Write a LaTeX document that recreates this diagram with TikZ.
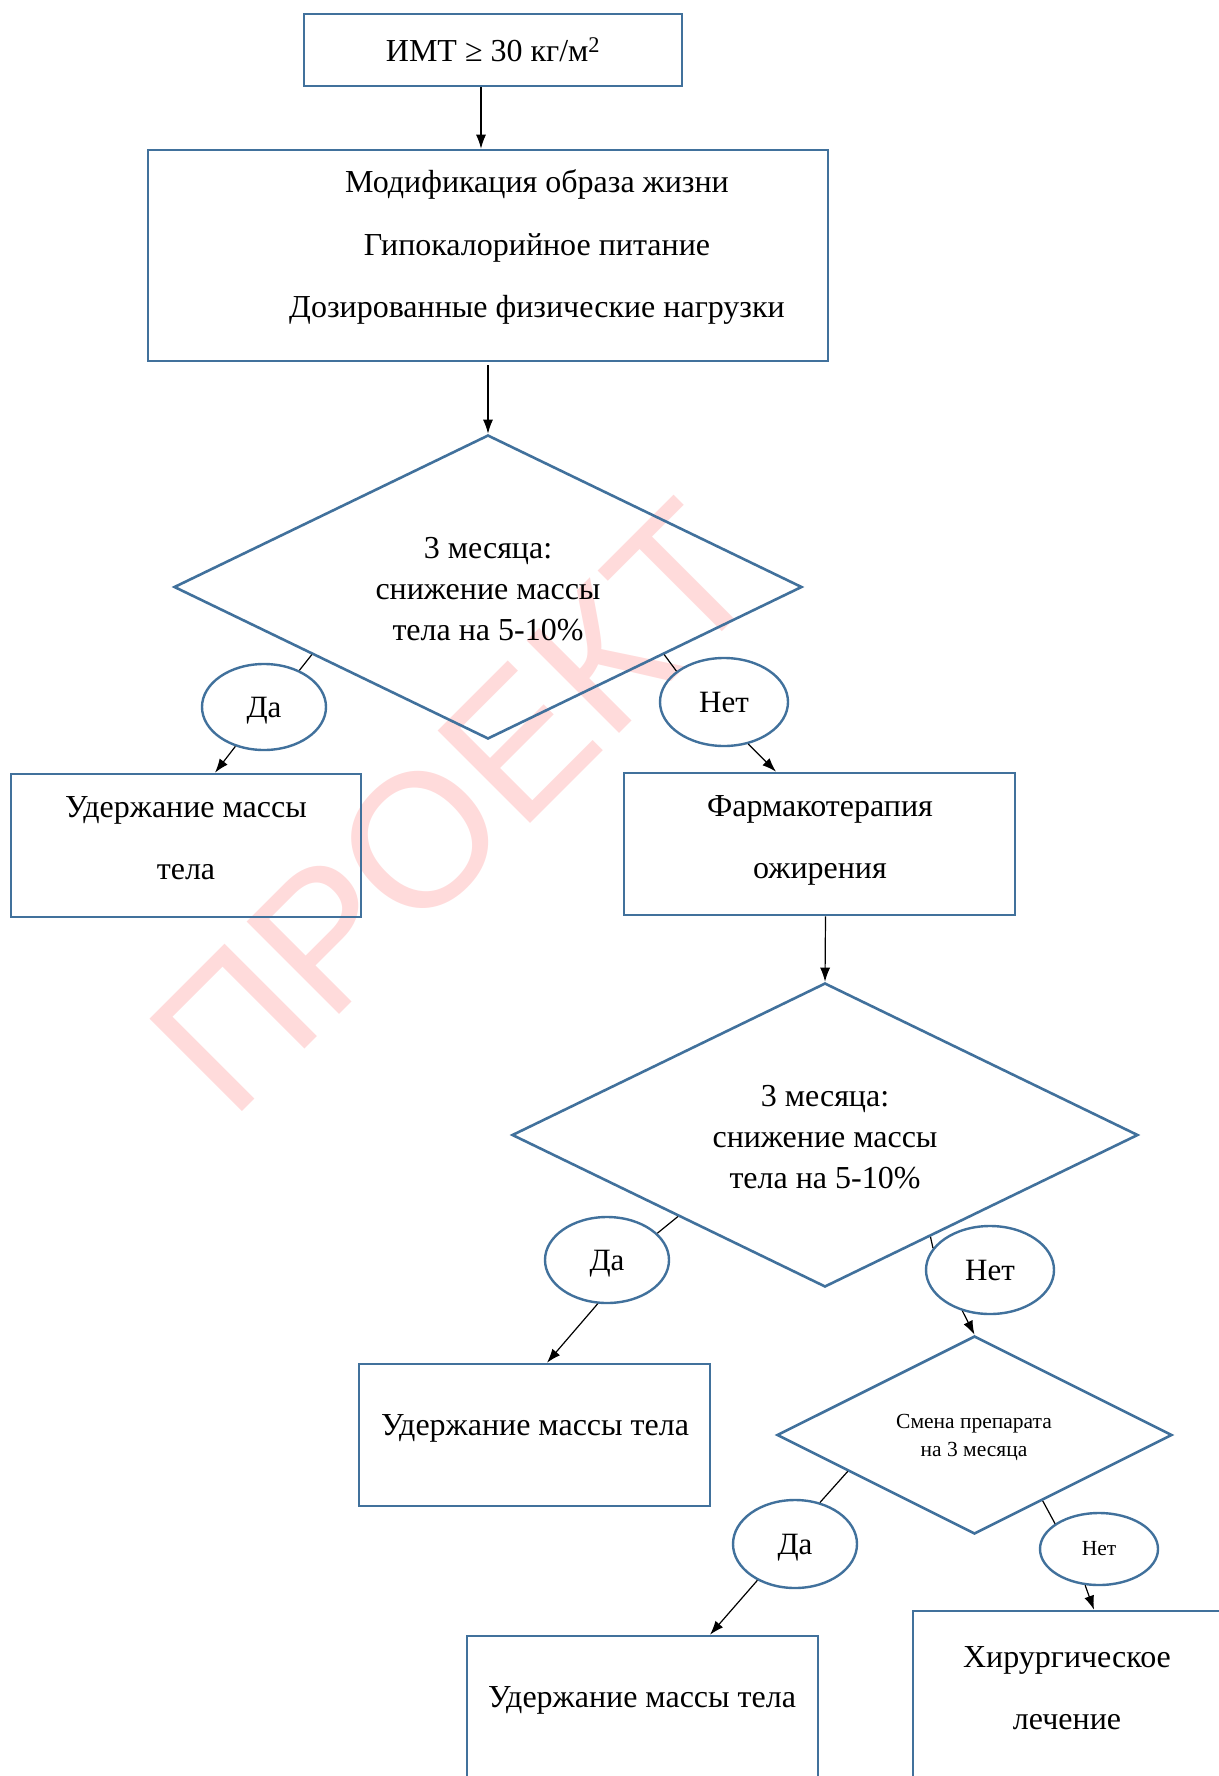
\documentclass[tikz,border=0pt]{standalone}
\usepackage{fontspec}
\setmainfont{Liberation Serif}
\newfontfamily\wmfont{Liberation Sans}
\usetikzlibrary{shapes.geometric,arrows.meta}
\definecolor{shapeblue}{RGB}{65,113,156}
\begin{document}
\begin{tikzpicture}[x=1pt,y=-1pt,
  box/.style={draw=shapeblue, line width=2.6pt, rectangle, inner sep=0pt},
  dia/.style={draw=shapeblue, line width=2.6pt, diamond, inner sep=0pt},
  ell/.style={draw=shapeblue, line width=2.4pt, ellipse, inner sep=0pt, font=\fontsize{31}{36}\selectfont},
  yes/.style={ell, text depth=0pt},
  txt/.style={inner sep=0pt, align=center, font=\fontsize{32}{62}\selectfont},
  dtxt/.style={inner sep=0pt, align=center, font=\fontsize{32}{41}\selectfont},
  stxt/.style={inner sep=0pt, align=center, font=\fontsize{21.5}{28}\selectfont},
  con/.style={line width=1.2pt, black},
  arr/.style={con, -{Latex[length=14pt,width=10pt]}}
]
\useasboundingbox (0,0) rectangle (1218,1776);
\fill[white] (0,0) rectangle (1218,1776);

% watermark
\node[rotate=45, text=red, text opacity=0.14, inner sep=0pt, font=\wmfont\fontsize{190}{190}\selectfont] (wm) at (454,807) {ПРОЕКТ};

% shapes
\node[box, minimum width=378pt, minimum height=72pt, font=\fontsize{32}{36}\selectfont] (b1) at (493,50) {ИМТ ≥ 30 кг/м\textsuperscript{2}};

\node[box, minimum width=680pt, minimum height=211pt] (b2) at (488,255.5) {};
\node[txt] (b2t) at (537,247) {Модификация образа жизни\\Гипокалорийное питание\\Дозированные физические нагрузки};

\node[dia, minimum width=628pt, minimum height=304pt] (d1) at (488,587) {};
\node[dtxt] (d1t) at (488,589) {3 месяца:\\снижение массы\\тела на 5-10\%};

\node[yes, minimum width=124pt, minimum height=86pt] (da1) at (264,707) {Да};
\node[ell, minimum width=128pt, minimum height=88pt] (net1) at (724,702) {Нет};

\node[box, minimum width=350pt, minimum height=143pt] (u1) at (186,845.5) {};
\node[txt] (u1t) at (186,838) {Удержание массы\\тела};

\node[box, minimum width=391pt, minimum height=142pt] (f1) at (819.5,844) {};
\node[txt] (f1t) at (820,840) {Фармакотерапия\\ожирения};

\node[dia, minimum width=626pt, minimum height=304pt] (d2) at (825,1135) {};
\node[dtxt] (d2t) at (825,1137) {3 месяца:\\снижение массы\\тела на 5-10\%};

\node[yes, minimum width=124pt, minimum height=86pt] (da2) at (607,1260) {Да};
\node[ell, minimum width=128pt, minimum height=88pt] (net2) at (990,1270) {Нет};

\node[box, minimum width=351pt, minimum height=142pt] (u2) at (534.5,1435) {};
\node[txt] (u2t) at (535,1428) {Удержание массы тела};

\node[dia, minimum width=395pt, minimum height=198pt] (d3) at (974.5,1435) {};
\node[stxt] (d3t) at (974,1437) {Смена препарата\\на 3 месяца};

\node[yes, minimum width=124pt, minimum height=88pt] (da3) at (795,1544) {Да};
\node[ell, minimum width=118pt, minimum height=72pt, font=\fontsize{21.5}{26}\selectfont] (net3) at (1099,1549) {Нет};

\node[box, minimum width=351pt, minimum height=154pt] (u3) at (642.5,1713) {};
\node[txt] (u3t) at (642,1700) {Удержание массы тела};

\node[box, minimum width=312pt, minimum height=179pt] (h1) at (1069,1700.5) {};
\node[txt] (h1t) at (1067,1688) {Хирургическое\\лечение};

% connectors
\draw[arr] ([xshift=-12pt]b1.south) -- ([xshift=-7pt]b2.north);
\draw[arr] ([yshift=-3pt]b2.south) -- (d1.north);
\draw[con] (d1.201) -- (da1.46);
\draw[arr] (da1.234) -- ([xshift=29pt]u1.north);
\draw[con] (d1.339) -- (net1.147);
\draw[arr] (net1.-60) -- ([xshift=-43.5pt]f1.north);
\draw[arr] ([xshift=6pt]f1.south) -- (d2.north);
\draw[con] (d2.209) -- (da2.28);
\draw[arr] (da2.258) -- ([xshift=12.5pt]u2.north);
\draw[con] (d2.316) -- (net2.159);
\draw[arr] (net2.236) -- (d3.north);
\draw[con] (d3.196) -- (da3.59);
\draw[arr] (da3.224) -- ([xshift=67.5pt]u3.north);
\draw[con] (d3.316) -- (net3.150);
\draw[arr] (net3.249) -- ([xshift=25pt]h1.north);
\end{tikzpicture}
\end{document}
